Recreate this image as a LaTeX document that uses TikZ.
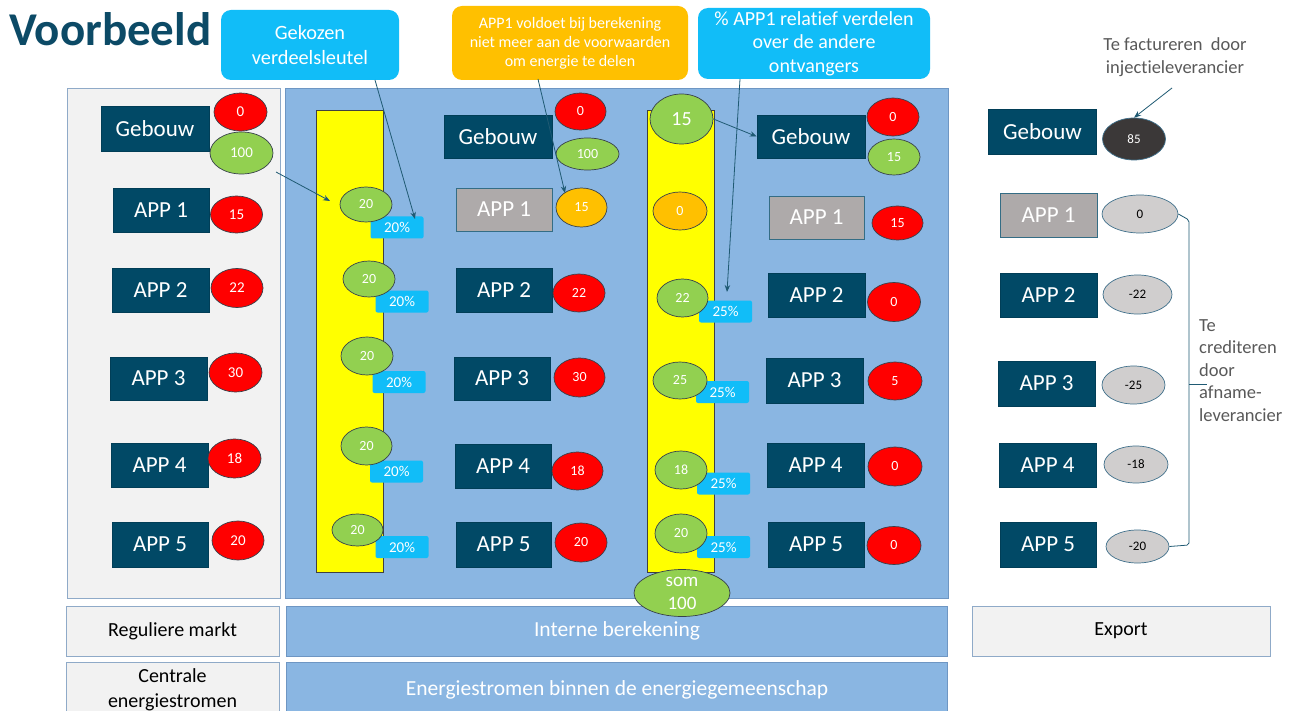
\documentclass[tikz,border=0pt]{standalone}
\usepackage{fontspec}
\setmainfont[Ligatures=NoCommon]{Carlito}
\usetikzlibrary{shapes.geometric,arrows.meta}
\definecolor{boxc}{RGB}{1,73,102}
\definecolor{grayb}{RGB}{174,170,170}
\definecolor{panelblue}{RGB}{138,182,226}
\definecolor{panelborder}{RGB}{110,150,195}
\definecolor{cyanc}{RGB}{17,189,248}
\definecolor{orangec}{RGB}{255,192,0}
\definecolor{greenc}{RGB}{146,208,80}
\definecolor{redc}{RGB}{255,0,0}
\definecolor{lgc}{RGB}{208,206,206}
\definecolor{dkc}{RGB}{59,56,56}
\definecolor{titlec}{RGB}{12,74,102}
\definecolor{lpanel}{RGB}{242,242,242}
\definecolor{lborder}{RGB}{143,170,200}
\definecolor{textgray}{RGB}{89,89,89}
\definecolor{arrc}{RGB}{31,90,115}
\definecolor{ellb}{RGB}{55,65,75}
\definecolor{lgb}{RGB}{65,113,140}
\definecolor{ybarc}{RGB}{255,255,0}
\tikzset{
  sz/.style 2 args={minimum width=#1pt, minimum height=#2pt},
  bx/.style={rectangle, fill=boxc, draw=boxc!85!black, line width=0.6pt, text=white,
    font=\fontsize{23}{25}\selectfont, inner sep=0pt},
  gbx/.style={bx, fill=grayb, draw=boxc!80},
  ell/.style={ellipse, draw=ellb, line width=0.7pt, inner sep=0pt,
    font=\fontsize{14}{16}\selectfont, text=white},
  redE/.style={ell, fill=redc},
  greenE/.style={ell, fill=greenc},
  orangeE/.style={ell, fill=orangec},
  lgE/.style={ell, fill=lgc, draw=lgb, text=black, font=\fontsize{13}{15}\selectfont},
  dkE/.style={ell, fill=dkc, draw=lgb, font=\fontsize{13}{15}\selectfont},
  tag/.style={rectangle, rounded corners=2pt, fill=cyanc, text=white,
    font=\fontsize{15}{17}\selectfont, inner sep=0pt, minimum width=53pt, minimum height=22pt},
  ybar/.style={fill=ybarc, draw=black!75, line width=0.6pt},
  callout/.style={rectangle, rounded corners=10pt, text=white, inner sep=0pt, align=center},
  arr/.style={-{Stealth[length=7pt,width=5.5pt]}, draw=arrc, line width=0.8pt},
  botgray/.style={rectangle, fill=lpanel, draw=lborder, line width=0.8pt, inner sep=0pt,
    font=\fontsize{20}{25}\selectfont, align=center, text=black},
  botblue/.style={rectangle, fill=panelblue, draw=panelborder, line width=0.8pt, inner sep=0pt,
    font=\fontsize{21.5}{25}\selectfont, align=center, text=white},
  note/.style={text=textgray, inner sep=0pt, font=\fontsize{18.5}{22.5}\selectfont},
}
\begin{document}
\begin{tikzpicture}[x=1pt,y=-1pt]
\useasboundingbox[fill=white] (0,0) rectangle (1295,711);

% title
\node[anchor=base west, inner sep=0pt, text=titlec, font=\fontsize{47}{52}\selectfont\bfseries] (title) at (9,46) {Voorbeeld};

% panels
\node[rectangle, fill=lpanel, draw=lborder, line width=0.9pt, sz={213}{510}] (leftpanel) at (174,343) {};
\node[rectangle, fill=panelblue, draw=panelborder, line width=0.9pt, sz={663}{510}] (midpanel) at (616.5,343) {};

% bottom boxes
\node[botgray, sz={213}{50}] (regmarkt) at (172.5,631) {Reguliere markt};
\node[botblue, sz={661}{50}] (intern) at (617,631) {Interne berekening};
\node[botgray, sz={298}{50}] (export) at (1121,631) {Export};
\node[botgray, sz={213}{54}, font=\fontsize{20}{25}\selectfont] (centrale) at (172.5,689.5) {Centrale\\energiestromen};
\node[botblue, sz={661}{54}] (energie) at (617,689.5) {Energiestromen binnen de energiegemeenschap};

% yellow bars
\node[ybar, rectangle, sz={67}{462}] (Y1) at (349.5,341) {};
\node[ybar, rectangle, sz={67}{462}] (Y2) at (681,341) {};

% ---- left column
\node[bx, sz={108}{45}] (LG) at (155,128.5) {Gebouw};
\node[bx, sz={96}{44}] (LA1) at (161,210) {APP 1};
\node[bx, sz={97}{44}] (LA2) at (160.5,290) {APP 2};
\node[bx, sz={97}{43}] (LA3) at (158.5,378.5) {APP 3};
\node[bx, sz={97}{44}] (LA4) at (159.5,465) {APP 4};
\node[bx, sz={96}{45}] (LA5) at (160,544.5) {APP 5};
\node[redE, sz={53}{38}, font=\fontsize{15}{17}\selectfont] (Lr0) at (240.5,112) {0};
\node[greenE, sz={63}{42}, font=\fontsize{15}{17}\selectfont] (Lg100) at (241.5,153) {100};
\node[redE, sz={52}{37}, font=\fontsize{15}{17}\selectfont] (Lr1) at (236.5,214.5) {15};
\node[redE, sz={52}{39}, font=\fontsize{15}{17}\selectfont] (Lr2) at (237,288) {22};
\node[redE, sz={53}{39}, font=\fontsize{15}{17}\selectfont] (Lr3) at (235.5,372.5) {30};
\node[redE, sz={53}{39}, font=\fontsize{15}{17}\selectfont] (Lr4) at (234.5,458.5) {18};
\node[redE, sz={52}{39}, font=\fontsize{15}{17}\selectfont] (Lr5) at (238,540.5) {20};

% ---- yellow bar 1 contents
\node[tag] (T1) at (397,227.5) {20\%};
\node[tag] (T2) at (402,301.5) {20\%};
\node[tag] (T3) at (399,382) {20\%};
\node[tag] (T4) at (396.5,471.5) {20\%};
\node[tag] (T5) at (402,547) {20\%};
\node[greenE, sz={52}{35}] (Y1a) at (366,204.5) {20};
\node[greenE, sz={52}{36}] (Y1b) at (369,279) {20};
\node[greenE, sz={52}{38}] (Y1c) at (367,356) {20};
\node[greenE, sz={51}{38}] (Y1d) at (366.5,446) {20};
\node[greenE, sz={51}{32}] (Y1e) at (357.5,530) {20};

% ---- middle column
\node[bx, sz={108}{43}] (MG) at (498,136.5) {Gebouw};
\node[gbx, sz={96}{43}] (MA1) at (504,209.5) {APP 1};
\node[bx, sz={96}{44}] (MA2) at (504,290) {APP 2};
\node[bx, sz={96}{43}] (MA3) at (502,378.5) {APP 3};
\node[bx, sz={96}{44}] (MA4) at (503,466) {APP 4};
\node[bx, sz={95}{45}] (MA5) at (503.5,544.5) {APP 5};
\node[redE, sz={51}{37}] (Mr0) at (580.5,111.5) {0};
\node[greenE, sz={63}{32}] (Mg100) at (587.5,154) {100};
\node[orangeE, sz={51}{39}] (Mo1) at (581.5,207.5) {15};
\node[redE, sz={52}{38}] (Mr2) at (579,293) {22};
\node[redE, sz={51}{39}] (Mr3) at (579.5,377.5) {30};
\node[redE, sz={51}{38}] (Mr4) at (577.5,471) {18};
\node[redE, sz={52}{39}] (Mr5) at (581,542.5) {20};

% ---- yellow bar 2 contents
\node[tag] (U2) at (725.5,311.5) {25\%};
\node[tag] (U3) at (722.5,392) {25\%};
\node[tag] (U4) at (723.5,483.5) {25\%};
\node[tag] (U5) at (723.5,547) {25\%};
\node[greenE, sz={63}{50}, font=\fontsize{20}{22}\selectfont] (B15) at (681.5,119) {15};
\node[orangeE, sz={54}{38}] (B0) at (680,211) {0};
\node[greenE, sz={51}{38}] (B22) at (682.5,298) {22};
\node[greenE, sz={54}{37}] (B25) at (680,380.5) {25};
\node[greenE, sz={52}{38}] (B18) at (681,470) {18};
\node[greenE, sz={52}{39}] (B20) at (681,533.5) {20};
\node[greenE, sz={96}{47}, align=center, font=\fontsize{19}{23}\selectfont] (som) at (682,593) {som\\100};

% ---- third column
\node[bx, sz={108}{43}] (RG) at (811,136.5) {Gebouw};
\node[gbx, sz={95}{43}] (RA1) at (816.5,217.5) {APP 1};
\node[bx, sz={97}{44}] (RA2) at (816.5,295) {APP 2};
\node[bx, sz={97}{45}] (RA3) at (814.5,380.5) {APP 3};
\node[bx, sz={97}{44}] (RA4) at (815.5,465) {APP 4};
\node[bx, sz={96}{45}] (RA5) at (816,544.5) {APP 5};
\node[redE, sz={52}{38}] (Rr0) at (893,117) {0};
\node[greenE, sz={52}{36}] (Rg15) at (894,157) {15};
\node[redE, sz={51}{34}] (Rr1) at (897.5,223) {15};
\node[redE, sz={53}{39}] (Rr2) at (894,302) {0};
\node[redE, sz={54}{38}] (Rr3) at (895,381) {5};
\node[redE, sz={54}{39}] (Rr4) at (895,466.5) {0};
\node[redE, sz={54}{38}] (Rr5) at (894,545.5) {0};

% ---- export column
\node[bx, sz={108}{45}] (EG) at (1042.5,131.5) {Gebouw};
\node[gbx, sz={97}{44}] (EA1) at (1048.5,215) {APP 1};
\node[bx, sz={97}{44}] (EA2) at (1048.5,295) {APP 2};
\node[bx, sz={97}{45}] (EA3) at (1046.5,383.5) {APP 3};
\node[bx, sz={97}{44}] (EA4) at (1047.5,465) {APP 4};
\node[bx, sz={96}{45}] (EA5) at (1048,544.5) {APP 5};
\node[dkE, sz={63}{42}] (E85) at (1134,139) {85};
\node[lgE, sz={76}{38}] (E0) at (1140,214) {0};
\node[lgE, sz={69}{39}] (E22) at (1137.5,294.5) {-22};
\node[lgE, sz={63}{38}] (E25) at (1133.5,385) {-25};
\node[lgE, sz={64}{37}] (E18) at (1136,464.5) {-18};
\node[lgE, sz={63}{33}] (E20) at (1137.5,546.5) {-20};

\node[note, align=center] (fact) at (1175,57) {Te factureren \ door\\injectieleverancier};
\node[note, align=left, anchor=north west] (cred) at (1199,319) {Te\\crediteren\\door\\afname-\\leverancier};

% bracket
\coordinate (brTop) at (1189,220);
\coordinate (brBot) at (1189,545);
\coordinate (brMid) at (1189,384);
\coordinate (brTip) at (1207,384);
\draw[arrc, line width=0.8pt, rounded corners=2pt] (E0.east) -- (brTop) -- (brBot) -- (E20.east);
\draw[arrc, line width=0.8pt] (brMid) -- (brTip);

% callouts
\node[callout, fill=cyanc, sz={178}{70}, font=\fontsize{20.3}{25}\selectfont] (callG) at (310,45) {Gekozen\\verdeelsleutel};
\node[callout, fill=orangec, sz={236}{74}, font=\fontsize{16}{19}\selectfont] (callO) at (570,43) {APP1 voldoet bij berekening\\niet meer aan de voorwaarden\\om energie te delen};
\node[callout, fill=cyanc, sz={232}{71}, font=\fontsize{20}{23.5}\selectfont] (callB) at (814,43.5) {\% APP1 relatief verdelen\\over de andere\\ontvangers};

% arrows
\coordinate (aGs) at (375,80);
\coordinate (aGe) at (415,219);
\draw[arr] (aGs) -- (aGe);
\coordinate (aOs) at (538,79);
\coordinate (aOe) at (565,193);
\draw[arr] (aOs) -- (aOe);
\coordinate (aBs) at (740,79);
\coordinate (aBe) at (727,292);
\draw[arr] (aBs) -- (aBe);
\coordinate (aLs) at (276,172);
\coordinate (aLe) at (330,201);
\draw[arr] (aLs) -- (aLe);
\draw[arr] (B15.east) -- (RG.west);
\coordinate (aFs) at (1172,88);
\draw[arr] (aFs) -- (E85.north);
\end{tikzpicture}
\end{document}
